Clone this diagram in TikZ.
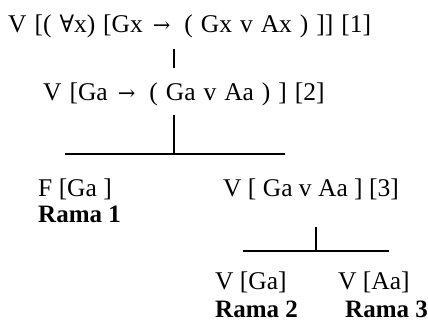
\documentclass[tikz,border=0pt]{standalone}
\usepackage{fontspec}
\setmainfont{Liberation Serif}
\newfontfamily\lblfont[WordSpace=1.25]{Liberation Serif}
\newfontfamily\symfont{DejaVu Serif}
\newcommand{\arr}{\hspace{10pt}{\symfont\fontsize{21}{21}\selectfont →}\hspace{14pt}}
\begin{document}
\begin{tikzpicture}[x=1pt,y=1pt,
  lbl/.style={anchor=base west,inner sep=0pt,font=\lblfont\fontsize{25.5}{28}\selectfont},
  lblb/.style={anchor=base west,inner sep=0pt,font=\fontsize{25.5}{28}\selectfont},
  rama/.style={anchor=base west,inner sep=0pt,font=\fontsize{25}{28}\selectfont\bfseries},
  edge/.style={line width=1.5pt}]
\useasboundingbox (0,0) rectangle (428,-328);
\node[lbl] (n1) at (8,-33) {V [( {\symfont\fontsize{24}{24}\selectfont ∀}x) [Gx\arr( Gx v Ax ) ]] [1]};
\node[lbl] (n2) at (43,-101) {V [Ga\arr( Ga v Aa ) ] [2]};
\node[lblb] (n3) at (38,-197) {F [Ga ]};
\node[rama] (r1) at (38,-223) {Rama 1};
\node[lblb] (n4) at (223,-197) {V [ Ga v Aa ] [3]};
\node[lblb] (n5) at (215,-290) {V [Ga]};
\node[lblb] (n6) at (338,-290) {V [Aa]};
\node[rama] (r2) at (215,-318) {Rama 2};
\node[rama] (r3) at (345,-318) {Rama 3};
\coordinate (a1) at (174,-49);
\coordinate (a2) at (174,-68);
\coordinate (b1) at (174,-115);
\coordinate (b2) at (174,-154);
\coordinate (bl) at (65,-154);
\coordinate (br) at (285,-154);
\coordinate (c1) at (316,-227);
\coordinate (c2) at (316,-251);
\coordinate (cl) at (243,-251);
\coordinate (cr) at (389,-251);
\draw[edge] (a1) -- (a2);
\draw[edge] (b1) -- (b2);
\draw[edge] (bl) -- (br);
\draw[edge] (c1) -- (c2);
\draw[edge] (cl) -- (cr);
\end{tikzpicture}
\end{document}
